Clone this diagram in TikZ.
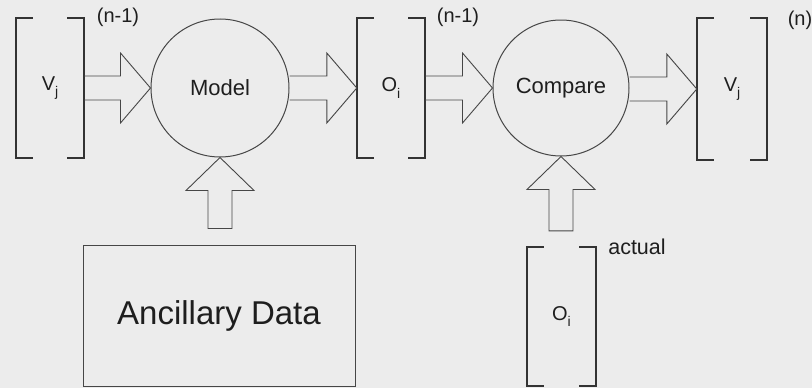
\documentclass[tikz,border=0pt]{standalone}
\usepackage{fontspec}
\setmainfont{Liberation Sans}
\usetikzlibrary{calc}
\definecolor{bg}{RGB}{236,236,236}
\definecolor{ln}{RGB}{70,70,70}
\definecolor{tx}{RGB}{30,30,30}
\newcommand\subs[1]{\raisebox{-0.6ex}{\fontsize{14}{14}\selectfont #1}}
\newcommand\drawbracket[1]{%
  \draw[brkline] ($(#1.north west)+(17,0)$) -- (#1.north west) -- (#1.south west) -- ($(#1.south west)+(17,0)$);
  \draw[brkline] ($(#1.north east)+(-17,0)$) -- (#1.north east) -- (#1.south east) -- ($(#1.south east)+(-17,0)$);}
\newcommand\harrow[2]{%
  \draw[blk] ($(#1.east |- #2.west)+(0,-12)$) -- ($(#2.west)+(-30,-12)$) -- ($(#2.west)+(-30,-35)$) -- (#2.west)
    -- ($(#2.west)+(-30,35)$) -- ($(#2.west)+(-30,12)$) -- ($(#1.east |- #2.west)+(0,12)$);}
\newcommand\varrow[2]{%
  \draw[blk] ($(#1.north -| #2.south)+(-12,-16)$) -- ($(#2.south)+(-12,33)$) -- ($(#2.south)+(-34,33)$) -- (#2.south)
    -- ($(#2.south)+(34,33)$) -- ($(#2.south)+(12,33)$) -- ($(#1.north -| #2.south)+(12,-16)$) -- cycle;}
\begin{document}
\begin{tikzpicture}[x=1pt,y=-1pt,
  proc/.style={circle,draw=ln,line width=1pt,inner sep=0pt,font=\fontsize{22}{22}\selectfont,text=tx},
  brk/.style={inner sep=0pt,text=tx,font=\fontsize{20}{20}\selectfont},
  brkline/.style={draw=black!80,line width=1.8pt},
  blk/.style={draw=ln,line width=0.9pt,line join=miter},
  lbl/.style={text=tx,font=\fontsize{20}{20}\selectfont,inner sep=0pt}]
\fill[bg] (0,0) rectangle (812,388);
\useasboundingbox (0,0) rectangle (812,388);
% nodes
\node[brk,minimum width=68,minimum height=140] (vin) at (50,88) {V\subs{j}};
\node[proc,minimum size=138] (model) at (220,88) {Model};
\node[brk,minimum width=68,minimum height=140] (omod) at (391,88) {O\subs{i}\hspace{5pt}};
\node[proc,minimum size=136] (cmp) at (561,88) {Compare};
\node[brk,minimum width=70,minimum height=141] (vout) at (732,89) {V\subs{j}};
\node[draw=ln,line width=1pt,minimum width=272,minimum height=141,font=\fontsize{33}{33}\selectfont,text=tx] (anc) at (219,315.5) {Ancillary Data};
\node[brk,minimum width=69,minimum height=139] (oact) at (561.5,316.5) {O\subs{i}};
% labels
\node[lbl] (l1) at (118,17) {(n-1)};
\node[lbl] (l2) at (458,17) {(n-1)};
\node[lbl] (l3) at (800,20) {(n)};
\node[lbl,font=\fontsize{21.5}{21.5}\selectfont] (l4) at (637,247) {actual};
% brackets
\drawbracket{vin}
\drawbracket{omod}
\drawbracket{vout}
\drawbracket{oact}
% arrows
\harrow{vin}{model}
\harrow{model}{omod}
\harrow{omod}{cmp}
\harrow{cmp}{vout}
\varrow{anc}{model}
\varrow{oact}{cmp}
\end{tikzpicture}
\end{document}
